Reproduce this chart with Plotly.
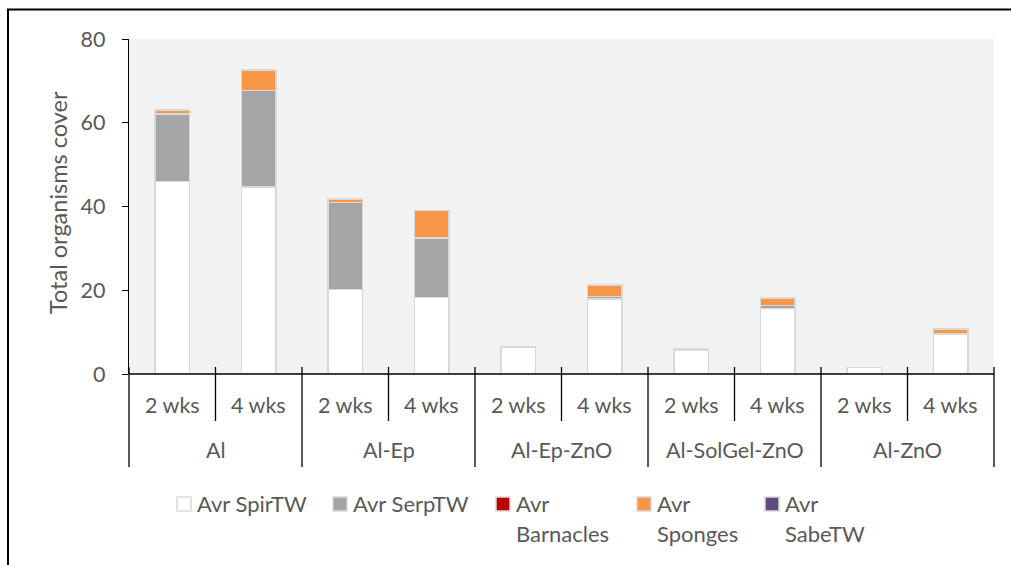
import plotly.graph_objects as go

# Treatment groups and exposure periods
groups = ["Al", "Al-Ep", "Al-Ep-ZnO", "Al-SolGel-ZnO", "Al-ZnO"]
periods = ["2 wks", "4 wks"]

# Average cover per organism group (stacked, bottom to top)
spir_tw = [46.0, 44.7, 20.2, 18.3, 6.5, 17.9, 5.7, 15.6, 1.5, 9.5]
serp_tw = [16.1, 23.0, 20.8, 14.2, 0.0, 0.6, 0.3, 0.7, 0.0, 0.2]
barnacles = [0.0, 0.0, 0.0, 0.0, 0.0, 0.0, 0.0, 0.0, 0.0, 0.0]
sponges = [0.9, 4.9, 0.8, 6.6, 0.0, 2.7, 0.0, 1.8, 0.0, 1.0]
sabe_tw = [0.0, 0.0, 0.0, 0.0, 0.0, 0.0, 0.0, 0.0, 0.0, 0.0]

y_ticks = [0, 20, 40, 60, 80]

# name, values, fill colour, legend text lines
series = [
    ("Avr SpirTW", spir_tw, "#ffffff", ["Avr SpirTW"]),
    ("Avr SerpTW", serp_tw, "#a5a5a5", ["Avr SerpTW"]),
    ("Avr Barnacles", barnacles, "#c00000", ["Avr", "Barnacles"]),
    ("Avr Sponges", sponges, "#f79646", ["Avr", "Sponges"]),
    ("Avr SabeTW", sabe_tw, "#604a7b", ["Avr", "SabeTW"]),
]

W, H = 1011, 565
ML, MR, MT, MB = 129, 17, 39, 191
PW, PH = W - ML - MR, H - MT - MB
FONT = "Lato"
TXT = "#595959"


def px_x(px):
    return (px - ML) / PW


def px_y(py):
    return (H - MB - py) / PH


n = len(groups) * len(periods)
xs = list(range(n))


def slot_paper(pos):
    # paper x of a position on the category axis (range -0.5 .. n-0.5)
    return (pos + 0.5) / n


fig = go.Figure()
for name, vals, col, _ in series:
    fig.add_trace(go.Bar(
        x=xs, y=vals, name=name, width=0.4,
        marker=dict(color=col, line=dict(color="#d9d9d9", width=1.5)),
        showlegend=False,
    ))

shapes = []
annotations = []

# category axis line
shapes.append(dict(type="line", xref="paper", yref="paper", x0=0, x1=1, y0=0, y1=0,
                   line=dict(color="black", width=1.3)))
# dividers between periods (short) and between groups (long)
for b in range(n + 1):
    xb = slot_paper(b - 0.5)
    bottom = 467 if b % len(periods) == 0 else 421
    shapes.append(dict(type="line", xref="paper", yref="paper", x0=xb, x1=xb,
                       y0=px_y(367), y1=px_y(bottom), line=dict(color="black", width=1.3)))

# period labels
for i in xs:
    annotations.append(dict(xref="paper", yref="paper", x=slot_paper(i), y=px_y(405),
                            text=periods[i % len(periods)], showarrow=False,
                            xanchor="center", yanchor="middle",
                            font=dict(family=FONT, size=21.5, color=TXT)))
# group labels
for g, name in enumerate(groups):
    center = g * len(periods) + (len(periods) - 1) / 2
    annotations.append(dict(xref="paper", yref="paper", x=slot_paper(center), y=px_y(450),
                            text=name, showarrow=False, xanchor="center", yanchor="middle",
                            font=dict(family=FONT, size=21.5, color=TXT)))

# y-axis title
annotations.append(dict(xref="paper", yref="paper", x=px_x(58), y=px_y(203),
                        text="Total organisms cover", textangle=-90, showarrow=False,
                        xanchor="center", yanchor="middle",
                        font=dict(family=FONT, size=23.5, color=TXT)))

# legend
leg_box_x = [177, 333, 496, 637, 765]
for (name, vals, col, lines), bx in zip(series, leg_box_x):
    shapes.append(dict(type="rect", xref="paper", yref="paper",
                       x0=px_x(bx), x1=px_x(bx + 14), y0=px_y(497), y1=px_y(511),
                       fillcolor=col, line=dict(color="#d9d9d9", width=1.5)))
    for k, ln in enumerate(lines):
        annotations.append(dict(xref="paper", yref="paper", x=px_x(bx + 19), y=px_y(503 + 30 * k),
                                text=ln, showarrow=False, xanchor="left", yanchor="middle",
                                borderpad=0,
                                font=dict(family=FONT, size=22, color=TXT)))

# outer frame
shapes.append(dict(type="rect", xref="paper", yref="paper",
                   x0=px_x(8), x1=px_x(1030), y0=px_y(9.5), y1=px_y(590),
                   line=dict(color="black", width=2), fillcolor="rgba(0,0,0,0)"))

fig.update_layout(
    width=W, height=H,
    margin=dict(l=ML, r=MR, t=MT, b=MB),
    barmode="stack",
    plot_bgcolor="#f2f2f2",
    paper_bgcolor="white",
    showlegend=False,
    shapes=shapes,
    annotations=annotations,
    xaxis=dict(range=[-0.5, n - 0.5], visible=False, fixedrange=True),
    yaxis=dict(range=[0, 80], tickvals=y_ticks, showgrid=False, zeroline=False,
               showline=True, linecolor="black", linewidth=1.3,
               ticks="outside", ticklen=6, tickcolor="black", tickwidth=1.3,
               ticklabelstandoff=12,
               tickfont=dict(family=FONT, size=21.5, color=TXT)),
)

fig.write_html("out.html")
